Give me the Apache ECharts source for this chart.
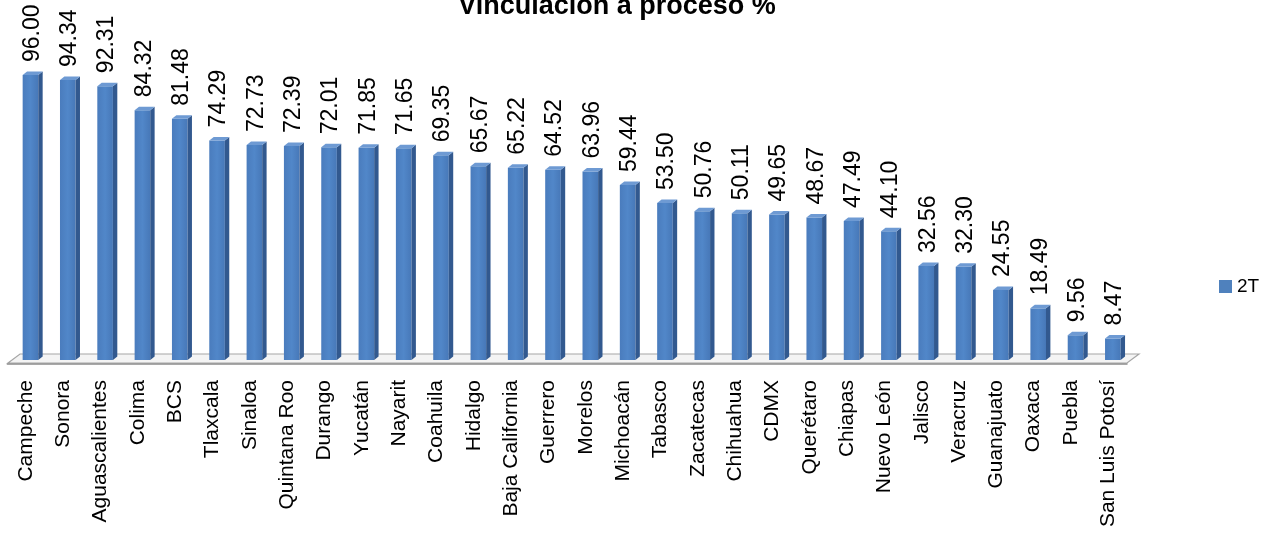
<!DOCTYPE html>
<html>
<head>
<meta charset="utf-8">
<script src="https://cdn.jsdelivr.net/npm/echarts@6/dist/echarts.min.js"></script>
<style>html,body{margin:0;padding:0;background:#fff}#c{width:1274px;height:535px}</style>
</head>
<body>
<div id="c"></div>
<script>
const categories = ["Campeche","Sonora","Aguascalientes","Colima","BCS","Tlaxcala","Sinaloa","Quintana Roo","Durango","Yucatán","Nayarit","Coahuila","Hidalgo","Baja California","Guerrero","Morelos","Michoacán","Tabasco","Zacatecas","Chihuahua","CDMX","Querétaro","Chiapas","Nuevo León","Jalisco","Veracruz","Guanajuato","Oaxaca","Puebla","San Luis Potosí"];
const values2T = [96.00,94.34,92.31,84.32,81.48,74.29,72.73,72.39,72.01,71.85,71.65,69.35,65.67,65.22,64.52,63.96,59.44,53.50,50.76,50.11,49.65,48.67,47.49,44.10,32.56,32.30,24.55,18.49,9.56,8.47];
const seriesName = "2T";
const titleText = "Vinculación a proceso %";

const FONT = "Liberation Sans";
const chart = echarts.init(document.getElementById('c'));

function renderBar(params, api) {
  const idx = api.value(0);
  const val = api.value(1);
  const top = api.coord([idx, val]);
  const base = api.coord([idx, 0]);
  const cx = top[0];
  const yT = top[1];
  const yB = base[1] - 4;
  const fl = cx - 3.3, fw = 15.6, fr = fl + fw;
  const dx = 4.4, dy = -3.5;
  return {
    type: 'group',
    children: [
      { type: 'rect', shape: { x: fl, y: yT, width: fw, height: yB - yT },
        style: { fill: new echarts.graphic.LinearGradient(0, 0, 1, 0, [
          { offset: 0, color: '#4a7cbd' }, { offset: 0.5, color: '#5187c9' }, { offset: 1, color: '#4778b8' }]) } },
      { type: 'polygon', shape: { points: [[fr, yT], [fr + dx, yT + dy], [fr + dx, yB + dy], [fr, yB]] },
        style: { fill: '#32598f' } },
      { type: 'polygon', shape: { points: [[fl, yT], [fl + dx, yT + dy], [fr + dx, yT + dy], [fr, yT]] },
        style: { fill: '#6e9ad3' } },
      { type: 'text', x: cx + 6.5, y: yT - 13, rotation: Math.PI / 2,
        style: { text: val.toFixed(2), fill: '#000', font: '23px "' + FONT + '"', align: 'left', verticalAlign: 'middle' } }
    ]
  };
}

chart.setOption({
  animation: false,
  backgroundColor: '#fff',
  title: {
    text: titleText, left: 612, top: -12, textAlign: 'center',
    textStyle: { fontFamily: FONT, fontSize: 27, fontWeight: 'bold', color: '#000' }
  },
  legend: {
    data: [{ name: seriesName, icon: 'rect' }],
    left: 1219, top: 277, padding: 0, itemWidth: 13, itemHeight: 13, itemGap: 6,
    textStyle: { fontFamily: FONT, fontSize: 19, color: '#000' }
  },
  grid: { left: 7.3, right: 147, top: 63, bottom: 171 },
  xAxis: {
    type: 'category', data: categories,
    axisLine: { lineStyle: { color: '#8c8c8c', width: 1.5 } },
    axisTick: { length: 8, lineStyle: { color: '#8c8c8c' } },
    axisLabel: { rotate: 90, fontFamily: FONT, fontSize: 21, color: '#000', margin: 16, interval: 0 }
  },
  yAxis: { type: 'value', min: 0, max: 100, show: false, splitLine: { show: false } },
  graphic: [{
    type: 'polygon', z: 0, silent: true,
    shape: { points: [[8, 363], [20, 354], [1139, 354], [1127, 363]] },
    style: { fill: '#f4f4f4', stroke: '#a6a6a6', lineWidth: 1.2 }
  }],
  series: [{
    name: seriesName, type: 'custom', renderItem: renderBar,
    itemStyle: { color: '#4f81bd' },
    encode: { x: 0, y: 1 },
    data: values2T.map((v, i) => [i, v]),
    z: 5
  }]
});
</script>
</body>
</html>
